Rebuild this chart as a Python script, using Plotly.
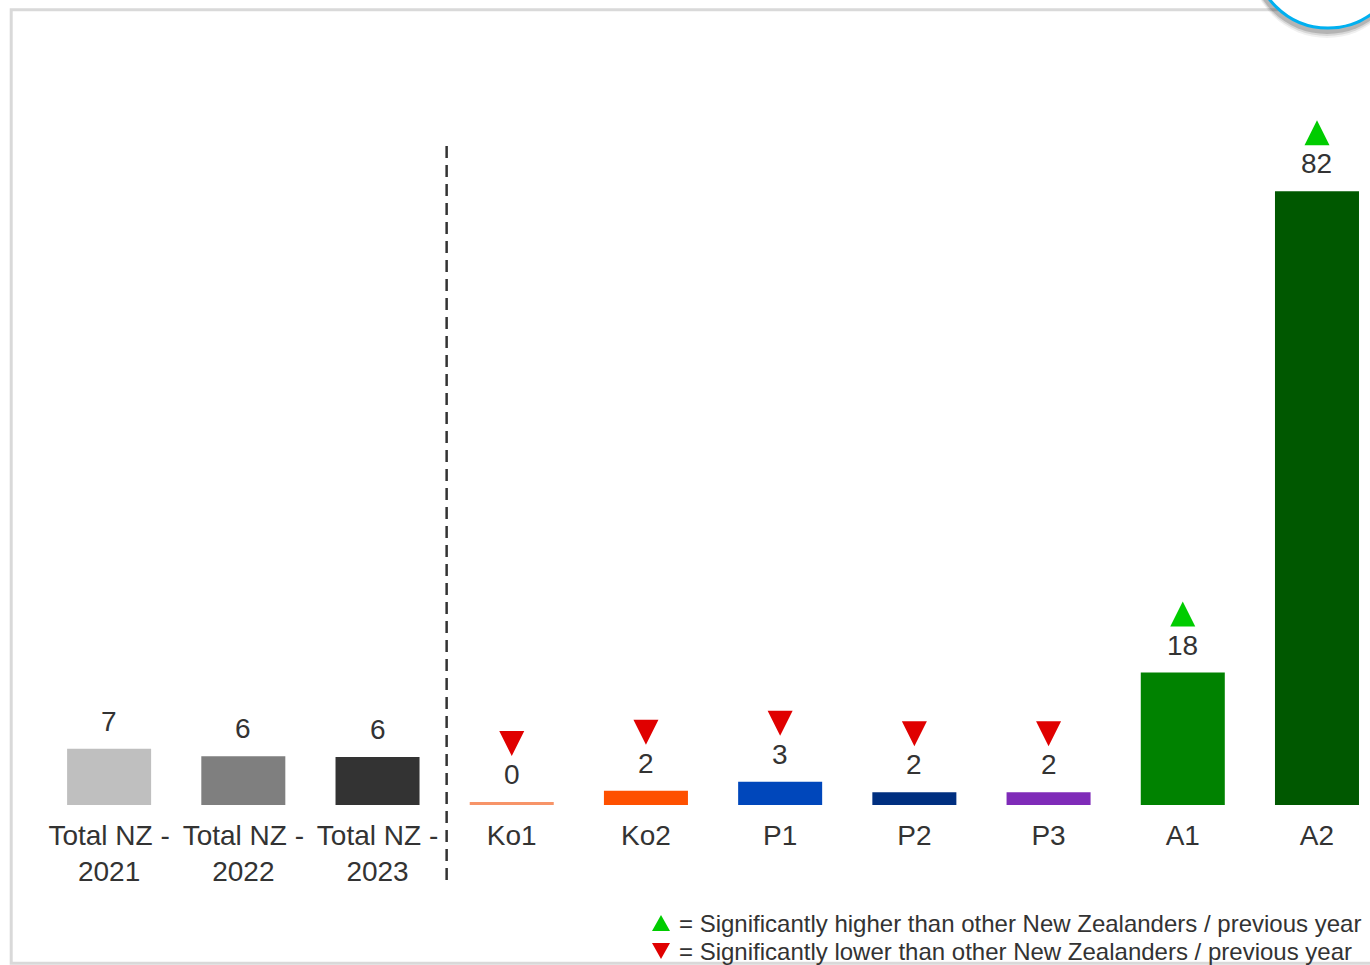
import plotly.graph_objects as go

# ---------------- data ----------------
categories = ["Total NZ -<br>2021", "Total NZ -<br>2022", "Total NZ -<br>2023",
              "Ko1", "Ko2", "P1", "P2", "P3", "A1", "A2"]
values = [7.5, 6.5, 6.4, 0.4, 1.9, 3.1, 1.7, 1.7, 17.7, 82.0]
value_labels = ["7", "6", "6", "0", "2", "3", "2", "2", "18", "82"]
significance = ["", "", "", "down", "down", "down", "down", "down", "up", "up"]
bar_colors = ["#bfbfbf", "#7f7f7f", "#333333", "#f79468", "#fe5000",
              "#0047bb", "#002f80", "#7f2bb8", "#008200", "#005800"]
legend_up = "= Significantly higher than other New Zealanders / previous year"
legend_down = "= Significantly lower than other New Zealanders / previous year"

# ---------------- layout constants ----------------
W, H = 1370, 965
ML, MR, MT, MB = 42, 0, 100, 160
PW, PH = W - ML - MR, H - MT - MB
Y_MAX = 94.2
X_RANGE = [-0.5, 9.395]
TEXT = "#333333"
FONT = "Liberation Sans, Arial, sans-serif"
UP_C, DOWN_C = "#00cc00", "#e00000"
UP_PATH = "M -12.5 46 L 12.5 46 L 0 71 Z"
DOWN_PATH = "M -12.5 71 L 12.5 71 L 0 46 Z"
UP_SMALL = "M -9 -8 L 9 -8 L 0 8 Z"
DOWN_SMALL = "M -9 8 L 9 8 L 0 -8 Z"


def px_x(p):
    return (p - ML) / PW


def px_y(p):
    return (MT + PH - p) / PH


xs = list(range(len(categories)))

fig = go.Figure()
fig.add_trace(go.Bar(x=xs, y=values, marker=dict(color=bar_colors, line=dict(width=0)),
                     hoverinfo="skip", showlegend=False))

annotations = []
shapes = []

# frame
shapes.append(dict(type="rect", xref="paper", yref="paper",
                   x0=px_x(11.2), x1=1.05, y0=px_y(963.3), y1=px_y(9.7),
                   line=dict(color="#d9d9d9", width=3), fillcolor="rgba(0,0,0,0)", layer="below"))

# value labels + significance triangles
for i, (v, lab, sig) in enumerate(zip(values, value_labels, significance)):
    annotations.append(dict(x=i, y=v, xref="x", yref="y", text=lab, showarrow=False,
                            yanchor="bottom", yshift=10,
                            font=dict(size=28, color=TEXT, family=FONT)))
    if sig == "up":
        path, col = UP_PATH, UP_C
    elif sig == "down":
        path, col = DOWN_PATH, DOWN_C
    else:
        continue
    shapes.append(dict(type="path", xref="x", yref="y", xsizemode="pixel", ysizemode="pixel",
                       xanchor=i, yanchor=v, path=path, fillcolor=col, line=dict(width=0)))

# dashed separator
shapes.append(dict(type="line", xref="x", yref="paper", x0=2.515, x1=2.515,
                   y0=px_y(880), y1=px_y(142),
                   line=dict(color="#333333", width=2.5, dash="12px,7px")))

# decorative circle (top right) with soft shadow
cx, cy, r = 1328, -46, 74
for dx, dy, op in [(-1, 7, 0.06), (-1, 5, 0.10), (-1, 3, 0.16)]:
    shapes.append(dict(type="circle", xref="paper", yref="paper",
                       x0=px_x(cx - r - 3 + dx), x1=px_x(cx + r + 3 + dx),
                       y0=px_y(cy + r + 3 + dy), y1=px_y(cy - r - 3 + dy),
                       fillcolor=f"rgba(0,0,0,{op})", line=dict(width=0)))
shapes.append(dict(type="circle", xref="paper", yref="paper",
                   x0=px_x(cx - r), x1=px_x(cx + r), y0=px_y(cy + r), y1=px_y(cy - r),
                   fillcolor="white", line=dict(color="#00b0f0", width=3)))

# significance legend
for txt, col, path, yc in [(legend_up, UP_C, UP_SMALL, 923), (legend_down, DOWN_C, DOWN_SMALL, 951)]:
    shapes.append(dict(type="path", xref="paper", yref="paper", xsizemode="pixel", ysizemode="pixel",
                       xanchor=px_x(661), yanchor=px_y(yc), path=path, fillcolor=col,
                       line=dict(width=0)))
    annotations.append(dict(xref="paper", yref="paper", x=px_x(677), y=px_y(yc),
                            xanchor="left", yanchor="middle", showarrow=False,
                            text=txt, font=dict(size=24, color=TEXT, family=FONT)))

fig.update_layout(
    width=W, height=H,
    margin=dict(l=ML, r=MR, t=MT, b=MB),
    paper_bgcolor="white", plot_bgcolor="white",
    bargap=0.374,
    xaxis=dict(range=X_RANGE, tickmode="array", tickvals=xs, ticktext=categories,
               showgrid=False, zeroline=False, showline=False, ticks="",
               ticklabelstandoff=11,
               tickfont=dict(size=28, color=TEXT, family=FONT), tickangle=0),
    yaxis=dict(range=[0, Y_MAX], visible=False, showgrid=False, zeroline=False),
    shapes=shapes, annotations=annotations,
    font=dict(family=FONT, color=TEXT),
)

fig.write_html("out.html")
